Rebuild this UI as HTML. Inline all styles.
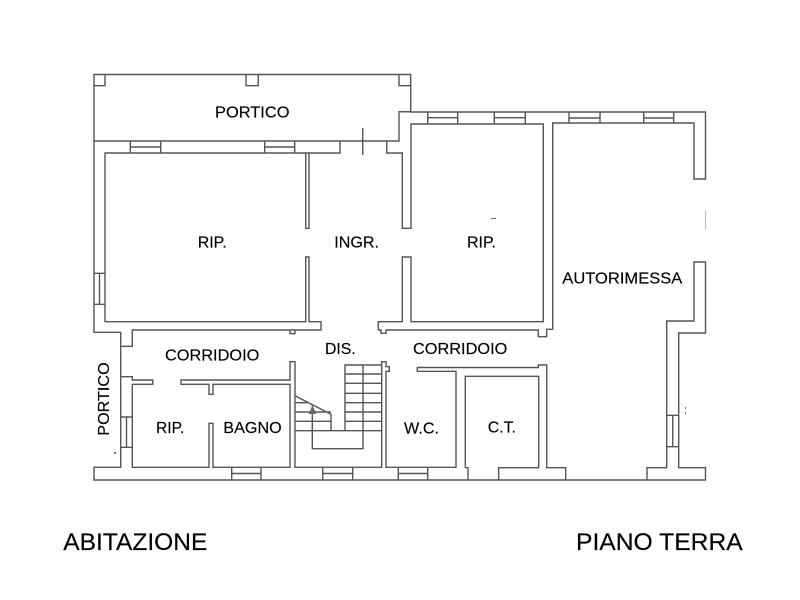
<!DOCTYPE html>
<html><head><meta charset="utf-8"><style>
html,body{margin:0;padding:0;background:#fff;width:800px;height:600px;overflow:hidden}
svg{display:block}
text{font-family:"Liberation Sans",sans-serif;fill:#000;stroke:#000;stroke-width:.15;font-size:16px}
.b{font-size:24px}
</style></head><body>
<svg width="800" height="600" viewBox="0 0 800 600" xmlns="http://www.w3.org/2000/svg">
<g fill="none" stroke="#555" stroke-width="1.4">
<!-- portico outer -->
<path d="M94 141V74.5H410.7V111.7H399V141H94"/>
<path d="M94 85.7H105V74.5M246 74.5V85.7H258.3V74.5M399 74.5V85.7H410.7"/>
<!-- main outer wall left & room -->
<path d="M94 141V332.3H120.7V467.3H94V480H647V467.7H666.7V321H694V262H705.5V333H678.7V467.7H705.5V480H647"/>
<path d="M399 111.7H410.7M410.7 111.7V112H705.5V179H694V123H552.7V329.3H546.7V336.7H538.3V330H386V333.3H381V330H378.3V321.7H402.3V257H411V321.7H543.3V124H411V228.3H402.3V153H386.7V141"/>
<!-- left room -->
<path d="M340 141V153H105V321.7H305.7V257H309V321.7H321V330H132.3V346.3H120.7"/>
<path d="M309 153V228.3H305.7V153"/>
<path d="M295 330V333.7H290V330"/>
<!-- door mark -->
<path d="M362.7 128V155"/>
<!-- corridor lower walls -->
<path d="M120.7 376.7H132.3V380H152.7V384.3H132.3V467.3H209V423.3H213V467.3H290V384.3H213V394.3H209V384.3H181V380H290V361.7H295V467.3H381.7V361.7H386V366.7H389.3V371.3H386V467.3H456V371.3H417.3V367.5H538.3V365H546.7V467.7H565.7V480"/>
<path d="M465.3 467.7V376.3H538.7V467.7H498.7V480M465.3 467.7H468V480"/>
<!-- windows -->
<path d="M130.3 141V153M160.7 141V153M130.3 147H160.7"/>
<path d="M264.7 141V153M294.7 141V153M264.7 147H294.7"/>
<path d="M427.7 112V124M457.7 112V124M427.7 117.7H457.7"/>
<path d="M494.3 112V124M525.3 112V124M494.3 117.7H525.3"/>
<path d="M569 112V123M600 112V123M569 118H600"/>
<path d="M643.7 112V123M673.7 112V123M643.7 118H673.7"/>
<path d="M94 273.3H105M94 304.3H105M99.5 273.3V304.3"/>
<path d="M120.7 417H132.3M120.7 447.3H132.3M126.5 417V447.3"/>
<path d="M666.7 415.3H678.7M666.7 446.7H678.7M672.7 415.3V446.7"/>
<path d="M231.7 467.3V480M261 467.3V480M231.7 473.5H261"/>
<path d="M322.7 467.3V480M352.7 467.3V480M322.7 473.5H352.7"/>
<path d="M398.3 467.3V480M427.7 467.3V480M398.3 473.5H427.7"/>
<!-- stairs -->
<path d="M345 430.7V365H381.7M345 374H381.7M345 383.3H381.7M345 393.3H381.7M345 402.7H381.7M345 412H381.7M345 421.3H381.7M295 430.7H381.7"/>
<path d="M363 365V448.7H312.3V405"/>
<path d="M295 395.7L331 414.3V430.7M295 402.7H309M295 412H331M295 421.3H331"/>
<path d="M705.5 210V230" stroke="#bbb" stroke-width="1"/>
</g>
<path d="M312.5 405.5L308.5 414H316.5Z" fill="#666"/>
<g fill="#777"><rect x="491" y="218" width="5" height="1"/><rect x="685" y="407" width="1" height="2"/><rect x="685" y="412" width="1" height="2"/><rect x="114" y="452" width="2" height="2"/></g>
<text x="215" y="117.3" textLength="74.5" lengthAdjust="spacingAndGlyphs">PORTICO</text>
<text x="197.7" y="247.7" textLength="29" lengthAdjust="spacingAndGlyphs">RIP.</text>
<text x="334.3" y="247.7" textLength="44.7" lengthAdjust="spacingAndGlyphs">INGR.</text>
<text x="467" y="247.7" textLength="29" lengthAdjust="spacingAndGlyphs">RIP.</text>
<text x="562.3" y="283.3" textLength="120" lengthAdjust="spacingAndGlyphs">AUTORIMESSA</text>
<text x="165" y="360.7" textLength="94.3" lengthAdjust="spacingAndGlyphs">CORRIDOIO</text>
<text x="325" y="354" textLength="30.7" lengthAdjust="spacingAndGlyphs">DIS.</text>
<text x="413" y="354" textLength="94.3" lengthAdjust="spacingAndGlyphs">CORRIDOIO</text>
<text x="156" y="433" textLength="28.3" lengthAdjust="spacingAndGlyphs">RIP.</text>
<text x="223.3" y="433" textLength="58.4" lengthAdjust="spacingAndGlyphs">BAGNO</text>
<text x="404" y="433.3" textLength="35" lengthAdjust="spacingAndGlyphs">W.C.</text>
<text x="487.7" y="432.7" textLength="28.3" lengthAdjust="spacingAndGlyphs">C.T.</text>
<text transform="translate(109 435.7) rotate(-90)" textLength="73.4" lengthAdjust="spacingAndGlyphs">PORTICO</text>
<text class="b" x="63.3" y="550" textLength="144" lengthAdjust="spacingAndGlyphs">ABITAZIONE</text>
<text class="b" x="576" y="550" textLength="166.7" lengthAdjust="spacingAndGlyphs">PIANO TERRA</text>
</svg>
</body></html>
